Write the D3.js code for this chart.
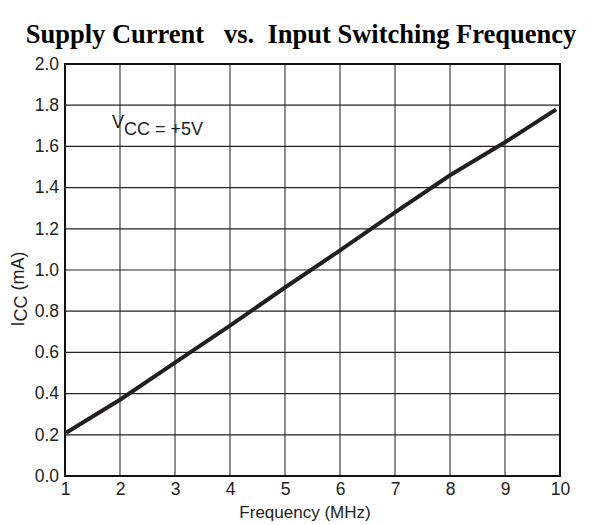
<!DOCTYPE html>
<html>
<head>
<meta charset="utf-8">
<script src="https://cdn.jsdelivr.net/npm/d3@7"></script>
<style>
  body { margin: 0; background: #fff; }
  text { font-family: "Liberation Sans", Arial, sans-serif; fill: #222; }
</style>
</head>
<body>
<svg id="chart"></svg>
<script>
var freq = [1.02, 2, 3, 4, 5, 6, 7, 8, 9, 9.93];
var icc = [0.21, 0.37, 0.55, 0.73, 0.915, 1.095, 1.28, 1.46, 1.62, 1.78];
var xTicks = [1, 2, 3, 4, 5, 6, 7, 8, 9, 10];
var yTicks = [0, 0.2, 0.4, 0.6, 0.8, 1.0, 1.2, 1.4, 1.6, 1.8, 2.0];

var width = 597, height = 525;
var margin = {left: 65, top: 64, right: 37, bottom: 49};

var svg = d3.select('#chart')
  .attr('width', width)
  .attr('height', height);

var x = d3.scaleLinear().domain([1, 10]).range([margin.left, width - margin.right]);
var y = d3.scaleLinear().domain([0, 2]).range([height - margin.bottom, margin.top]);

// title
svg.append('text')
  .attr('x', 301).attr('y', 43)
  .attr('text-anchor', 'middle')
  .attr('xml:space', 'preserve')
  .style('font-family', '"Liberation Serif", "Times New Roman", serif')
  .style('font-weight', 'bold')
  .style('font-size', '26.5px')
  .style('fill', '#000')
  .text('Supply Current   vs.  Input Switching Frequency');

// grid
var grid = svg.append('g');
grid.selectAll('line.vx')
  .data(xTicks.slice(1, -1))
  .enter().append('line')
  .attr('x1', function(d) { return x(d); })
  .attr('x2', function(d) { return x(d); })
  .attr('y1', y(0)).attr('y2', y(2))
  .attr('stroke', '#444').attr('stroke-width', 1.2);
grid.selectAll('line.hy')
  .data(yTicks.slice(1, -1))
  .enter().append('line')
  .attr('y1', function(d) { return y(d); })
  .attr('y2', function(d) { return y(d); })
  .attr('x1', x(1)).attr('x2', x(10))
  .attr('stroke', '#222').attr('stroke-width', 1.2);

// frame
svg.append('rect')
  .attr('x', x(1)).attr('y', y(2))
  .attr('width', x(10) - x(1)).attr('height', y(0) - y(2))
  .attr('fill', 'none').attr('stroke', '#111').attr('stroke-width', 2);

// axes
var xAxis = svg.append('g')
  .attr('transform', 'translate(0,' + y(0) + ')')
  .call(d3.axisBottom(x).tickValues(xTicks).tickSize(0).tickPadding(7).tickFormat(d3.format('d')));
var yAxis = svg.append('g')
  .attr('transform', 'translate(' + x(1) + ',0)')
  .call(d3.axisLeft(y).tickValues(yTicks).tickSize(0).tickPadding(6).tickFormat(d3.format('.1f')));
[xAxis, yAxis].forEach(function(a) {
  a.select('.domain').remove();
  a.selectAll('text')
    .style('font-family', '"Liberation Sans", Arial, sans-serif')
    .style('font-size', '17.5px')
    .attr('fill', '#222');
});
yAxis.selectAll('text').attr('dy', '0.3em');

// data line
svg.append('path')
  .datum(d3.zip(freq, icc))
  .attr('fill', 'none')
  .attr('stroke', '#231f20')
  .attr('stroke-width', 4)
  .attr('d', d3.line()
    .x(function(d) { return x(d[0]); })
    .y(function(d) { return y(d[1]); }));

// annotation
var ann = svg.append('text')
  .attr('x', 112).attr('y', 135)
  .style('font-size', '18px');
ann.append('tspan').attr('dy', -7).text('V');
ann.append('tspan').attr('dy', 7).text('CC = +5V');

// axis titles
svg.append('text')
  .attr('x', 305).attr('y', 518)
  .attr('text-anchor', 'middle')
  .style('font-size', '17px')
  .text('Frequency (MHz)');

var yl = svg.append('text')
  .attr('transform', 'translate(24,289) rotate(-90)')
  .attr('text-anchor', 'middle')
  .style('font-size', '18px');
yl.append('tspan').text('I');
yl.append('tspan').attr('dy', 3).text('CC');
yl.append('tspan').attr('dy', -3).text(' (mA)');
</script>
</body>
</html>
